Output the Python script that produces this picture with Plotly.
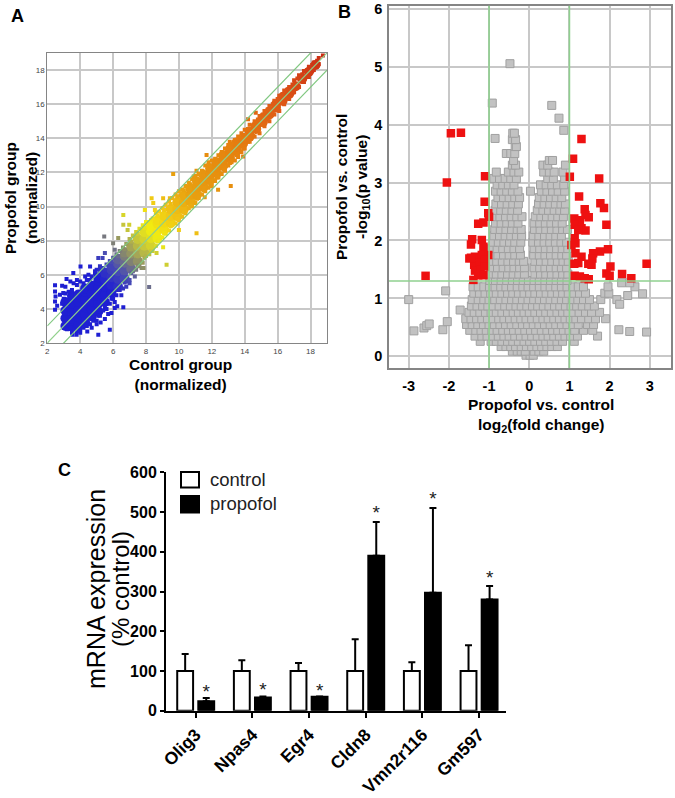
import plotly.graph_objects as go

W, H = 675, 798
FONT = "Liberation Sans"

# ---------- Panel A data (hand) ----------
a_core_rows = [
 (3.1,[3.0,3.45,3.9,4.4]),(3.5,[2.95,3.4,3.85,4.3,4.75]),(3.9,[3.05,3.5,3.95,4.4,4.85]),
 (4.3,[3.2,3.65,4.1,4.55,5.0,5.2]),(4.7,[3.55,4.0,4.45,4.9,5.35]),(5.1,[3.85,4.3,4.75,5.2,5.65,5.85]),
 (5.5,[4.4,4.85,5.3,5.75,6.1]),(5.9,[4.95,5.4,5.85,6.3,6.5]),(6.3,[5.3,5.75,6.2,6.65,6.9]),
 (6.7,[5.8,6.25,6.7,7.1,7.3]),(7.1,[6.35,6.8,7.25,7.65]),(7.5,[6.8,7.25,7.7,8.1]),
 (7.9,[7.3,7.7,8.1,8.5]),(8.3,[7.7,8.15,8.55,8.85]),(8.7,[8.15,8.6,9.0,9.2]),
 (9.1,[8.65,9.05,9.45]),(9.5,[9.05,9.45,9.85]),(9.9,[9.45,9.85,10.25]),(10.3,[9.85,10.25,10.65]),
 (10.7,[10.3,10.7,11.05]),(11.1,[10.7,11.1,11.45]),(11.5,[11.15,11.5,11.85]),(11.9,[11.55,11.9,12.25]),
 (12.3,[11.95,12.3,12.6]),(12.7,[12.4,12.7,13.0]),(13.1,[12.85,13.1,13.35]),(13.5,[13.25,13.5,13.75]),
 (13.9,[13.7,13.95]),(14.3,[14.1,14.4]),(14.7,[14.55,14.75]),(15.1,[14.95,15.2]),(15.5,[15.4,15.55]),
 (15.9,[15.8,16.0]),(16.3,[16.2,16.4]),(16.7,[16.6,16.75]),(17.1,[17.05]),(17.5,[17.5]),(17.9,[17.9]),(18.3,[18.3]),
]
a_upper_edge = [(2.9,4.3),(3.0,4.6),(3.1,4.9),(3.3,5.0),(3.5,5.1),(3.6,5.5),(3.8,5.4),(4.0,5.6),(4.2,5.5),(4.4,5.7),(4.6,5.7),(4.7,5.9),(4.9,6.1),(5.0,6.3),(5.2,6.3),(5.4,6.4),(5.6,6.6),(5.8,6.8),(6.0,7.0),(6.2,7.2),(6.4,7.4),(6.6,7.6),(6.8,7.8),(7.0,8.1),(7.2,8.3),(7.4,8.5),(7.6,8.7),(7.8,8.9),(8.0,9.1),(8.2,9.1),(8.4,9.3),(8.6,9.6),(8.8,9.7),(9.0,9.9),(9.2,10.1),(9.4,10.3),(9.6,10.5),(9.8,10.7),(10.0,10.9),(10.2,11.0),(10.4,11.2),(10.6,11.4),(10.8,11.6),(11.0,11.8),(11.2,11.9),(11.4,12.1),(11.6,12.4),(11.8,12.6),(12.0,12.7),(12.2,12.8),(12.4,13.0),(12.6,13.2),(12.8,13.4),(13.0,13.6),(13.2,13.7),(13.4,13.9),(13.6,14.1),(13.8,14.3),(14.0,14.5),(14.3,14.8),(14.6,15.0),(14.9,15.3),(15.2,15.6),(15.5,15.9),(15.8,16.2),(16.1,16.5),(16.4,16.8),(16.7,17.0),(17.0,17.4),(17.3,17.7),(17.6,17.95),(17.9,18.2),(18.2,18.45),(18.5,18.7),(18.75,18.85)]
a_lower_edge = [(3.0,2.9),(3.2,2.8),(3.5,2.6),(3.8,2.7),(4.0,2.8),(4.2,2.9),(4.4,3.0),(4.6,3.1),(4.8,3.3),(5.0,3.3),(5.2,3.6),(5.4,3.9),(5.6,4.0),(5.8,4.3),(6.0,4.6),(6.2,4.8),(6.4,5.1),(6.6,5.2),(6.8,5.6),(7.0,5.7),(7.2,6.2),(7.4,6.3),(7.6,6.5),(7.8,6.7),(8.0,7.1),(8.2,7.2),(8.4,7.4),(8.6,7.7),(8.8,8.0),(9.0,8.2),(9.2,8.4),(9.4,8.6),(9.6,8.9),(9.8,9.0),(10.0,9.2),(10.2,9.4),(10.4,9.6),(10.6,9.9),(10.8,10.0),(11.0,10.2),(11.2,10.5),(11.4,10.7),(11.6,10.9),(11.8,11.1),(12.0,11.2),(12.2,11.5),(12.4,11.7),(12.6,11.9),(12.8,12.1),(13.0,12.4),(13.2,12.6),(13.4,12.7),(13.6,12.9),(13.8,13.2),(14.0,13.4),(14.3,13.8),(14.6,14.1),(14.9,14.3),(15.2,14.7),(15.5,15.0),(15.8,15.4),(16.1,15.6),(16.4,16.0),(16.7,16.3),(17.0,16.7),(17.3,17.0),(17.6,17.3),(17.9,17.6),(18.2,18.0),(18.5,18.35)]
a_upper_inner = [(5.1,6.0),(5.5,6.3),(5.9,6.75),(6.3,7.1),(6.7,7.5),(7.1,7.95),(7.5,8.4),(7.9,8.75),(8.3,9.2),(8.7,9.45),(9.1,9.8),(9.5,10.15),(9.9,10.6),(10.3,10.95),(10.7,11.3),(11.1,11.65),(11.5,12.05),(11.9,12.4),(12.3,12.7),(12.7,13.05),(13.1,13.5),(13.5,13.85),(13.9,14.2),(14.2,14.55),(14.5,14.75),(14.8,15.1),(15.1,15.4),(15.4,15.7),(15.7,16.0),(16.0,16.3),(16.3,16.6),(16.6,16.85),(16.9,17.15),(17.2,17.5),(17.5,17.75),(17.8,18.0),(18.1,18.3),(18.4,18.55)]
a_lower_inner = [(5.1,3.6),(5.5,4.1),(5.9,4.6),(6.3,5.1),(6.7,5.55),(7.1,6.1),(7.5,6.55),(7.9,7.0),(8.3,7.4),(8.7,7.95),(9.1,8.45),(9.5,8.85),(9.9,9.25),(10.3,9.65),(10.7,10.05),(11.1,10.45),(11.5,10.95),(11.9,11.3),(12.3,11.7),(12.7,12.15),(13.1,12.55),(13.5,13.0),(13.9,13.4),(14.2,13.8),(14.5,14.15),(14.8,14.45),(15.1,14.8),(15.4,15.1),(15.7,15.45),(16.0,15.7),(16.3,16.05),(16.6,16.35),(16.9,16.65),(17.2,17.0),(17.5,17.3),(17.8,17.6),(18.1,17.95),(18.4,18.25)]
a_outliers = [(2.47,5.38),(2.47,5.02),(2.9,5.36),(2.5,4.73),(2.77,4.83),(2.47,4.44),(2.97,4.93),(2.47,3.95),(2.6,4.19),(3.17,5.75),(3.58,6.1),(4.02,6.49),(4.6,6.49),
 (3.1,5.3),(3.4,5.6),(3.8,5.7),(4.3,5.9),(4.5,6.0),(4.9,6.2),(5.2,6.5),(3.4,2.9),(4.0,2.6),(4.7,2.9),(5.0,3.1),(5.5,3.4),(5.7,3.7),(6.1,4.4),(6.5,4.8),
 (3.78,2.49),(3.54,2.49),(5.1,2.49),(5.8,2.78),(4.43,2.68),(5.24,3.2),(5.9,3.76),(6.62,4.1),(6.25,4.15),(6.1,4.05),(8.19,5.28),(9.25,6.59),(7.32,5.9),(7.73,6.39),(7.85,6.39),(7.0,5.5),(6.8,5.3),
 (5.46,8.24),(6.62,9.5),(6.62,8.93),(6.98,8.93),(6.88,8.63),(6.31,8.15),(6.0,7.85),(6.1,7.46),(5.1,6.98),(5.36,6.98),(5.5,7.27),(7.93,9.8),(8.34,10.49),(8.44,10.2),(8.54,9.8),(9.65,11.9),(9.04,10.49),(9.45,10.49),(11.07,12.1),(10.9,11.76),(11.68,13.02),(13.09,13.8),(14.2,15.11),(14.67,15.5),
 (11.07,8.44),(10.0,8.63),(13.15,11.2),(12.38,10.98),(11.57,10.55),(13.9,12.93),(8.64,7.27),(9.04,7.62)]
a_ticks = [2,4,6,8,10,12,14,16,18]
a_fc_offsets = [1,0,-1]

# ---------- Panel B data ----------
b_gray_rows = [
 (0.02,[-0.08,0.02,0.1]),(0.09,[-0.42,-0.3,-0.2,-0.1,0.12,0.24,0.36]),
 (0.17,[-0.7,-0.58,-0.46,-0.34,-0.2,-0.07,0.06,0.19,0.31,0.44,0.56,0.7]),
 (0.26,[-1.22,-0.95,-0.82,-0.68,-0.54,-0.41,-0.27,-0.13,0.01,0.14,0.28,0.41,0.55,0.69,0.83,1.12]),
 (0.35,[-1.35,-1.18,-1.05,-0.91,-0.77,-0.63,-0.5,-0.36,-0.22,-0.08,0.06,0.2,0.34,0.47,0.61,0.75,0.89,1.03,1.2,1.7]),
 (0.45,[-1.48,-1.33,-1.2,-1.07,-0.93,-0.8,-0.66,-0.52,-0.39,-0.25,-0.11,0.03,0.16,0.3,0.44,0.58,0.71,0.85,0.99,1.13,1.35,1.58]),
 (0.55,[-1.56,-1.42,-1.28,-1.14,-1.0,-0.87,-0.73,-0.59,-0.45,-0.31,-0.17,-0.04,0.1,0.24,0.38,0.52,0.66,0.8,0.94,1.08,1.22,1.45,1.6]),
 (0.65,[-1.58,-1.45,-1.31,-1.18,-1.04,-0.9,-0.76,-0.63,-0.49,-0.35,-0.21,-0.08,0.06,0.2,0.34,0.47,0.61,0.75,0.89,1.02,1.16,1.3,1.48,1.65,1.9]),
 (0.76,[-1.5,-1.37,-1.23,-1.09,-0.95,-0.82,-0.68,-0.54,-0.4,-0.27,-0.13,0.0,0.14,0.28,0.41,0.55,0.69,0.83,0.96,1.1,1.24,1.4,1.55,1.75]),
 (0.87,[-1.44,-1.3,-1.16,-1.03,-0.89,-0.75,-0.61,-0.47,-0.33,-0.2,-0.06,0.08,0.21,0.35,0.49,0.63,0.76,0.9,1.04,1.18,1.32,1.48,1.62]),
 (0.98,[-1.42,-1.27,-1.13,-1.0,-0.86,-0.72,-0.58,-0.44,-0.31,-0.17,-0.03,0.11,0.25,0.38,0.52,0.66,0.8,0.93,1.07,1.21,1.35,1.5,1.78]),
 (1.09,[-1.38,-1.24,-1.1,-0.96,-0.82,-0.68,-0.54,-0.41,-0.27,-0.13,0.01,0.14,0.28,0.42,0.56,0.7,0.83,0.97,1.11,1.25,1.4,1.88,1.98]),
 (1.2,[-1.4,-1.27,-1.13,-0.99,-0.85,-0.71,-0.58,-0.44,-0.3,-0.16,-0.03,0.11,0.25,0.39,0.52,0.66,0.8,0.94,1.08,1.22,1.35,1.96]),
 (1.31,[-0.98,-0.84,-0.7,-0.56,-0.42,-0.29,-0.15,-0.02,0.12,0.25,0.39,0.53,0.67,0.8,0.94]),
 (1.42,[-0.96,-0.82,-0.68,-0.54,-0.4,-0.26,-0.12,0.14,0.28,0.41,0.55,0.69,0.83,0.96]),
 (1.53,[-0.93,-0.79,-0.65,-0.51,-0.38,-0.24,-0.12,0.12,0.26,0.39,0.53,0.67,0.8,0.93]),
 (1.64,[-0.95,-0.81,-0.67,-0.53,-0.39,-0.25,-0.14,0.14,0.28,0.42,0.56,0.7,0.84,0.97]),
 (1.75,[-0.92,-0.78,-0.64,-0.5,-0.36,-0.22,0.11,0.25,0.39,0.53,0.67,0.81,0.93]),
 (1.86,[-0.94,-0.8,-0.66,-0.52,-0.38,-0.24,0.12,0.26,0.4,0.54,0.68,0.82,0.96]),
 (1.97,[-0.9,-0.77,-0.63,-0.49,-0.36,-0.21,0.09,0.23,0.37,0.51,0.65,0.79,0.93]),
 (2.08,[-0.88,-0.74,-0.6,-0.46,-0.32,-0.19,0.1,0.24,0.38,0.52,0.66,0.8]),
 (2.19,[-0.86,-0.72,-0.58,-0.44,-0.3,-0.2,0.13,0.27,0.41,0.55,0.69,0.83,0.95]),
 (2.3,[-0.84,-0.7,-0.56,-0.42,-0.28,0.12,0.26,0.4,0.54,0.68,0.82]),
 (2.41,[-0.87,-0.73,-0.59,-0.45,-0.31,-0.18,0.15,0.29,0.43,0.57,0.71,0.85]),
 (2.52,[-0.85,-0.71,-0.57,-0.43,-0.29,0.2,0.34,0.48,0.62,0.76,0.88]),
 (2.63,[-0.83,-0.69,-0.55,-0.41,-0.27,0.23,0.37,0.51,0.65,0.79,0.9]),
 (2.74,[-0.78,-0.64,-0.5,-0.36,-0.24,0.25,0.39,0.53,0.67,0.81]),
 (2.85,[-0.84,-0.7,-0.56,-0.42,-0.28,0.03,0.3,0.44,0.58,0.72,0.88]),
 (2.96,[-0.8,-0.66,-0.52,-0.38,0.28,0.42,0.56,0.7,0.86]),
 (3.07,[-0.88,-0.74,-0.6,-0.46,-0.32,0.46,0.6,0.88]),
 (3.18,[-0.82,-0.52,-0.38,-0.26,0.36,0.5,0.62,0.84]),
 (3.3,[-0.42,-0.34,0.34,0.46,0.9]),(3.38,[-0.39,0.5,0.58]),(3.5,[-0.57,-0.46,-0.36]),
 (3.62,[-0.35,-0.32]),(3.74,[-0.42,-0.34]),(3.85,[-0.41,-0.37]),
]
b_gray_sparse = [(-3.0,0.98),(-2.87,0.44),(-2.62,0.49),(-2.55,0.53),(-2.49,0.56),(-2.15,0.46),(-2.04,0.6),(-2.08,1.13),(-1.72,0.8),
 (-0.48,5.05),(-0.92,4.37),(0.56,4.33),(0.74,4.11),(0.86,3.9),(-0.85,3.76),
 (2.23,0.46),(2.5,0.43),(2.92,0.42),(2.18,0.98),(2.25,0.9),(2.45,1.05),(2.63,1.2),(2.82,1.08),(2.3,1.27),(2.5,1.27)]
b_red_points = [(-1.95,3.85),(-1.7,3.86),(-2.05,3.0),(-1.1,3.11),(-1.11,2.67),(-1.02,2.47),(-1.0,2.41),(-1.27,2.29),(-1.14,2.31),(-2.58,1.39),
 (-1.42,2.02),(-1.45,1.93),(-1.18,2.01),(-1.14,1.89),(-1.49,1.69),(-1.35,1.72),(-1.18,1.75),(-1.02,1.75),(-1.37,1.58),(-1.23,1.61),(-1.1,1.66),(-1.35,1.48),(-1.21,1.49),(-1.1,1.55),(-1.27,1.4),(-1.14,1.4),(-1.39,1.32),(-1.45,1.7),
 (1.3,3.75),(1.09,3.41),(1.01,3.1),(1.74,3.07),(1.24,2.76),(1.77,2.64),(1.86,2.56),(1.38,2.54),(1.4,2.44),(1.48,2.4),(1.92,2.27),(1.12,2.38),(1.26,2.35),(1.13,2.27),(1.3,2.21),(1.4,2.17),(1.22,2.18),(1.13,2.04),(1.05,1.92),(1.15,1.95),
 (1.96,1.85),(1.76,1.81),(1.59,1.78),(1.57,1.69),(1.55,1.58),(1.3,1.72),(1.15,1.78),(1.22,1.61),(1.47,1.6),(2.02,1.55),(1.92,1.43),(2.0,1.39),(2.31,1.42),(2.54,1.35),(2.92,1.6),(1.13,1.39),(1.26,1.38),(1.38,1.35),(1.48,1.33),(1.12,1.6)]
b_xticks = [-3,-2,-1,0,1,2,3]
b_xlabels = ["-3","-2","-1","0","1","2","3"]
b_yticks = [0,1,2,3,4,5,6]
b_fc_lines = [-1,1]
b_p_line = 1.3

# ---------- Panel C data ----------
c_genes = ["Olig3","Npas4","Egr4","Cldn8","Vmn2r116","Gm597"]
c_control = [100,100,100,100,100,100]
c_control_err = [43,27,20,80,22,65]
c_propofol = [24,33,35,390,297,280]
c_propofol_err = [8,3,1,85,213,34]
c_star_y = [45,49,47,494,530,332]
c_yticks = [0,100,200,300,400,500,600]

# ---------- helpers ----------
def dx(a,b): return [a/W,b/W]
def dy(top,bot): return [1-bot/H,1-top/H]
def unrows_x(rows): return [x for x,ys in rows for _ in ys]
def unrows_y(rows): return [y for _,ys in rows for y in ys]
a_scale = [[0,"#1f1fd2"],[0.1,"#1f1fd2"],[0.16,"#4c4fb0"],[0.2,"#85866f"],[0.25,"#c4c43c"],[0.3,"#f2ee10"],
           [0.37,"#f0c516"],[0.45,"#e8a010"],[0.62,"#e6820f"],[0.8,"#df5a16"],[1,"#c92a14"]]
def a_trace(xs,ys,size,symbol="square"):
    return go.Scatter(x=xs,y=ys,mode="markers",xaxis="x",yaxis="y",hoverinfo="skip",
        marker=dict(size=size,symbol=symbol,color=[(p+q)/2 for p,q in zip(xs,ys)],
                    colorscale=a_scale,cmin=4,cmax=19,line=dict(width=0)))

fig = go.Figure()
# A
fig.add_trace(a_trace(unrows_x(a_core_rows),unrows_y(a_core_rows),10,"circle"))
for pts in (a_upper_inner,a_lower_inner,a_upper_edge,a_lower_edge,a_outliers):
    fig.add_trace(a_trace([p[0] for p in pts],[p[1] for p in pts],4))
# B
fig.add_trace(go.Scatter(x=[x for _,xs in b_gray_rows for x in xs]+[p[0] for p in b_gray_sparse],
    y=[y for y,xs in b_gray_rows for _ in xs]+[p[1] for p in b_gray_sparse],
    mode="markers",xaxis="x2",yaxis="y2",hoverinfo="skip",
    marker=dict(symbol="square",size=8,color="#c2c2c2",line=dict(color="#a0a0a0",width=1))))
fig.add_trace(go.Scatter(x=[p[0] for p in b_red_points],y=[p[1] for p in b_red_points],
    mode="markers",xaxis="x2",yaxis="y2",hoverinfo="skip",
    marker=dict(symbol="square",size=8.5,color="#ee1111",line=dict(width=0))))
# C
c_pos = list(range(len(c_genes)))
fig.add_trace(go.Bar(x=c_pos,y=c_control,name="control",xaxis="x3",yaxis="y3",
    marker=dict(color="white",line=dict(color="black",width=2)),
    error_y=dict(type="data",symmetric=False,array=c_control_err,arrayminus=[0]*6,color="black",thickness=2,width=3.5)))
fig.add_trace(go.Bar(x=c_pos,y=c_propofol,name="propofol",xaxis="x3",yaxis="y3",
    marker=dict(color="black",line=dict(color="black",width=2)),
    error_y=dict(type="data",symmetric=False,array=c_propofol_err,arrayminus=[0]*6,color="black",thickness=2,width=3.5)))
fig.add_trace(go.Scatter(x=[p+0.186 for p in c_pos],y=c_star_y,mode="text",text=["*"]*6,xaxis="x3",yaxis="y3",
    hoverinfo="skip",textposition="middle center",textfont=dict(family=FONT,size=19,color="#222")))

shapes = []
for off in a_fc_offsets:
    shapes.append(dict(type="line",xref="x",yref="y",x0=2,y0=2+off,x1=19,y1=19+off,
                       line=dict(color="#7fc77f" if off else "#8fd08a",width=1.2)))
for v in b_fc_lines:
    shapes.append(dict(type="line",xref="x2",yref="paper",x0=v,x1=v,y0=dy(5.7,368)[0],y1=dy(5.7,368)[1],
                       line=dict(color="#8fd08f",width=1.6)))
shapes.append(dict(type="line",xref="paper",yref="y2",x0=389/W,x1=670.7/W,y0=b_p_line,y1=b_p_line,
                   line=dict(color="#8fd08f",width=1.6)))
# legend keys of panel C
shapes.append(dict(type="rect",xref="paper",yref="paper",x0=181/W,x1=199/W,y0=1-487.5/H,y1=1-472/H,
                   line=dict(color="black",width=2),fillcolor="white"))
shapes.append(dict(type="rect",xref="paper",yref="paper",x0=181/W,x1=199/W,y0=1-512.5/H,y1=1-496/H,
                   line=dict(color="black",width=2),fillcolor="black"))

def note(text,x,y,size,bold=True,angle=0,color="black",anchor="center"):
    return dict(text=text,x=x/W,y=1-y/H,xref="paper",yref="paper",showarrow=False,xanchor=anchor,yanchor="middle",
                textangle=angle,align="center",font=dict(family=FONT,size=size,color=color,weight=700 if bold else 400))
annotations = [
 note("A",17,16,18),note("B",344,12,18),note("C",64,470,18),
 note("Control group<br>(normalized)",180,374,15.5),
 note("Propofol group",10,198,15.5,angle=-90),
 note("(normalized)",31,198,15.5,angle=-90),
 note("Propofol vs. control<br>log<sub>2</sub>(fold change)",540.7,415,15.5),
 note("Propofol vs. control<br>-log<sub>10</sub>(p value)",352,187,15.5,angle=-90),
 note("mRNA expression",96,589,25,bold=False,angle=-90),
 note("(% control)",120,589,24,bold=False,angle=-90),
 note("control",208,479,18.5,bold=False,color="#222",anchor="left"),
 note("propofol",208,503,18.5,bold=False,color="#222",anchor="left"),
]

grid = "#c8c8c8"
frame = "#858585"
fig.update_layout(
    width=W,height=H,margin=dict(l=0,r=0,t=0,b=0,autoexpand=False),paper_bgcolor="white",plot_bgcolor="white",
    showlegend=False,barmode="group",bargap=0.256,bargroupgap=0.247,
    shapes=shapes,annotations=annotations,font=dict(family=FONT),
    xaxis=dict(domain=dx(47.3,327),range=[2,19],tickvals=a_ticks,showgrid=True,gridcolor=grid,gridwidth=1.5,zeroline=False,
        showline=True,mirror=True,linecolor=frame,linewidth=1,ticks="",ticklabelstandoff=0,anchor="y",
        tickfont=dict(family=FONT,size=8,color="#444")),
    yaxis=dict(domain=dy(53,343),range=[2,19],tickvals=a_ticks,showgrid=True,gridcolor=grid,gridwidth=1.5,zeroline=False,
        showline=True,mirror=True,linecolor=frame,linewidth=1,ticks="",anchor="x",
        tickfont=dict(family=FONT,size=8,color="#444")),
    xaxis2=dict(domain=dx(389,670.7),range=[-3.49,3.52],tickvals=b_xticks,ticktext=b_xlabels,showgrid=True,gridcolor=grid,gridwidth=1.5,zeroline=False,
        showline=True,mirror=True,linecolor=frame,linewidth=1.5,ticks="",ticklabelstandoff=4,anchor="y2",
        tickfont=dict(family=FONT,size=14.5,color="black",weight=700)),
    yaxis2=dict(domain=dy(5.7,368),range=[-0.2,6.05],tickvals=b_yticks,showgrid=True,gridcolor=grid,gridwidth=1.5,zeroline=False,
        showline=True,mirror=True,linecolor=frame,linewidth=1.5,ticks="",ticklabelstandoff=2,anchor="x2",
        tickfont=dict(family=FONT,size=14.5,color="black",weight=700)),
    xaxis3=dict(domain=dx(166,505.7),range=[-0.524,5.47],tickvals=c_pos,ticktext=c_genes,tickangle=-45,showgrid=False,zeroline=False,
        showline=True,linecolor="black",linewidth=2,ticks="outside",ticklen=5,tickwidth=2,tickcolor="black",
        tickfont=dict(family=FONT,size=17.5,color="black",weight=700),anchor="y3"),
    yaxis3=dict(domain=dy(472.3,710.7),range=[0,600],tickvals=c_yticks,showgrid=False,zeroline=False,
        showline=True,linecolor="black",linewidth=2,ticks="outside",ticklen=4,tickwidth=2,tickcolor="black",
        tickfont=dict(family=FONT,size=16,color="black",weight=700),anchor="x3"),
)
fig.write_html("out.html",config=dict(displayModeBar=False),
    post_script="document.body.style.margin='0';document.documentElement.style.overflow='hidden';")
